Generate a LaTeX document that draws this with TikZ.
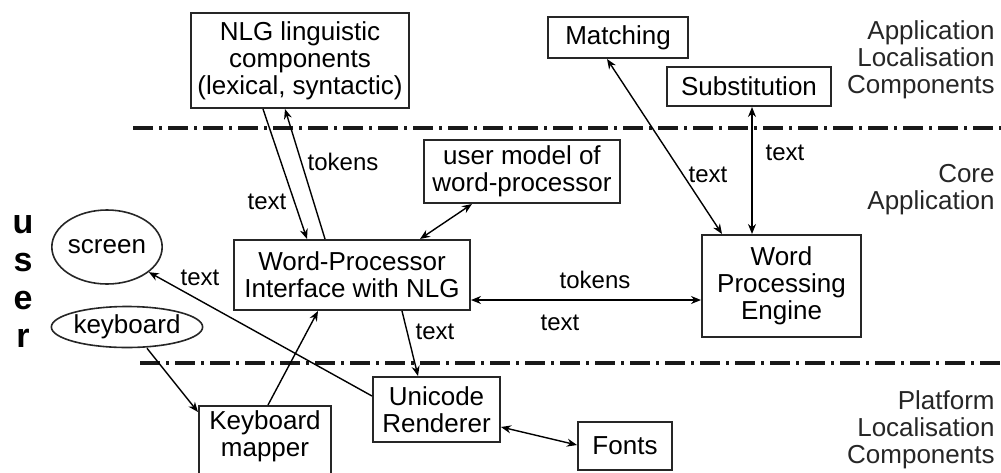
\documentclass[tikz,border=0pt]{standalone}
\usepackage{fontspec}
\setmainfont{Liberation Sans}
\usetikzlibrary{shapes.geometric,arrows.meta,calc}

\tikzset{
  sz/.style 2 args={minimum width=#1*0.5pt, minimum height=#2*0.5pt},
  box/.style={draw=black!85, line width=1pt, rectangle, align=center,
    inner sep=0pt, font=\fontsize{13}{13.5}\selectfont},
  oval/.style={draw=black!85, line width=0.8pt, ellipse, inner sep=0pt,
    font=\fontsize{13}{13.5}\selectfont},
  lbl/.style={inner sep=0pt, font=\fontsize{12}{13.5}\selectfont},
  layer/.style={inner sep=0pt, align=right, anchor=east,
    font=\fontsize{13}{13.5}\selectfont, text=black!85},
  conn/.style={line width=0.7pt, -{Stealth[length=5pt,width=4pt]}},
  biconn/.style={line width=0.7pt, {Stealth[length=5pt,width=4pt]}-{Stealth[length=5pt,width=4pt]}},
  divider/.style={line width=1.6pt, black!90,
    dash pattern=on 10pt off 3pt on 1.5pt off 3pt},
  userletter/.style={inner sep=0pt, anchor=base,
    font=\fontsize{17}{17}\selectfont\bfseries}
}

\begin{document}
\begin{tikzpicture}[x=0.5pt,y=-0.5pt]
  \useasboundingbox (0,0) rectangle (1001,472);
  \clip (0,0) rectangle (1001,472);

  % layer dividers
  \draw[divider] (133,128) -- (1001,128);
  \draw[divider] (140,363) -- (1001,363);

  % layer names
  \node[layer] (appl) at (995,60) {Application\\Localisation\\Components};
  \node[layer] (core) at (995,190) {Core\\Application};
  \node[layer] (plat) at (995,430) {Platform\\Localisation\\Components};

  % the user
  \foreach \ch [count=\i from 0] in {u,s,e,r}
    \node[userletter] (user\i) at (23,{233+38*\i}) {\ch};

  % components
  \node[box, sz={218}{95}] (NLG) at (300,60.5)
    {NLG linguistic\\components\\(lexical, syntactic)};
  \node[box, sz={196}{63}] (UM) at (522,171.5)
    {user model of\\word-processor};
  \node[box, sz={140}{41}] (MA) at (618,37.5) {Matching};
  \node[box, sz={164}{39}] (SU) at (749,86.5) {Substitution};
  \node[box, sz={236}{70}] (WP) at (352,275)
    {Word-Processor\\Interface with NLG};
  \node[box, sz={159}{102}] (WPE) at (781.5,286)
    {Word\\Processing\\Engine};
  \node[box, sz={127}{65}] (UR) at (436.5,409.5)
    {Unicode\\Renderer};
  \node[box, sz={94}{48}] (FO) at (625,446) {Fonts};
  \node[box, sz={132}{84}, text depth=14pt] (KM) at (265,448)
    {Keyboard\\mapper};
  \node[oval, sz={96}{74}] (SC) at (107,247) {screen};
  \node[oval, sz={150}{41}] (KB) at (127,327) {keyboard};

  % connectors
  \draw[conn] ($(NLG.south)+(-37,0)$) -- ($(WP.north)+(-45,0)$);
  \draw[conn] ($(WP.north)+(-27,0)$) -- ($(NLG.south)+(-15,0)$);
  \draw[biconn] ($(UM.south)+(-50,0)$) -- ($(WP.north)+(68,0)$);
  \draw[biconn] ($(MA.south)+(-11,0)$) -- ($(WPE.north)+(-59.5,0)$);
  \draw[biconn] ($(SU.south)+(3,0)$) -- ($(WPE.north)+(-29.5,0)$);
  \draw[biconn] ($(WP.east)+(0,25)$) -- ($(WPE.west)+(0,14)$);
  \draw[conn] ($(UR.west)+(0,-13.5)$) -- (SC.-31);
  \draw[conn] ($(KB.south)+(20,0)$) -- ($(KM.north west)+(0,7)$);
  \draw[conn] ($(KM.north)+(3,0)$) -- ($(WP.south)+(-34,0)$);
  \draw[conn] ($(WP.south)+(50,0)$) -- ($(UR.north)+(-18.5,0)$);
  \draw[biconn] ($(UR.east)+(0,17.5)$) -- ($(FO.west)+(0,-1)$);

  % connector labels
  \node[lbl] (l1) at (343,162) {tokens};
  \node[lbl] (l2) at (267,202) {text};
  \node[lbl] (l3) at (785,153) {text};
  \node[lbl] (l4) at (708,175) {text};
  \node[lbl] (l5) at (200,278) {text};
  \node[lbl] (l6) at (435,332) {text};
  \node[lbl] (l7) at (595,280) {tokens};
  \node[lbl] (l8) at (560,323) {text};
\end{tikzpicture}
\end{document}
